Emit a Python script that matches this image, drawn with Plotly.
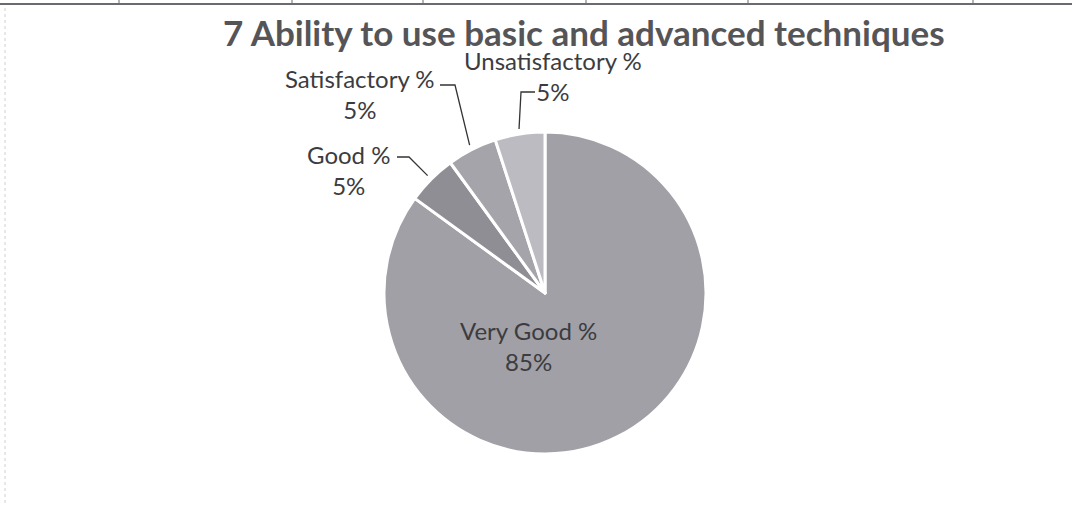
import math
import plotly.graph_objects as go

W, H = 1072, 506

labels = ["Very Good %", "Good %", "Satisfactory %", "Unsatisfactory %"]
values = [85, 5, 5, 5]
colors = ["#a0a0a6", "#8e8e94", "#a4a4aa", "#bbbbc1"]

title = "7 Ability to use basic and advanced techniques"

# pie placement in pixels
cx, cy, r = 545, 293, 161


def px(x):
    return x / W


def py(y):
    return 1 - y / H


fig = go.Figure(go.Pie(
    labels=labels, values=values, sort=False, direction="clockwise", rotation=0,
    marker=dict(colors=colors, line=dict(color="white", width=3)),
    textinfo="none", hoverinfo="label+percent", showlegend=False,
    domain=dict(x=[px(cx - r), px(cx + r)], y=[py(cy + r), py(cy - r)]),
))

txt_color = "#3c3c40"
font = dict(family="Lato, Open Sans, sans-serif", size=24, color=txt_color)

# label anchor (text centre) and elbow start of leader line, in pixels
label_pos = {
    "Very Good %": (528, 346, None),
    "Good %": (348, 170, (397, 157, 409)),
    "Satisfactory %": (360, 94, (440, 85, 455)),
    "Unsatisfactory %": (553, 76, (535, 92, 521)),
}

total = sum(values)
annotations = []
shapes = []
start = 0.0
for lab, v in zip(labels, values):
    pct = round(100 * v / total)
    mid = (start + v / 2) / total * 2 * math.pi
    start += v
    tx, ty, leader = label_pos[lab]
    annotations.append(dict(x=px(tx), y=py(ty), xref="paper", yref="paper", text=f"{lab}<br>{pct}%",
                            showarrow=False, font=font, align="center", xanchor="center", yanchor="middle"))
    if leader:
        lx, ly, ex = leader
        ex_ = cx + (r + 5) * math.sin(mid)
        ey_ = cy - (r + 5) * math.cos(mid)
        shapes.append(dict(type="path", xref="paper", yref="paper",
                           path=f"M {px(lx)} {py(ly)} L {px(ex)} {py(ly)} L {px(ex_)} {py(ey_)}",
                           line=dict(color="#333333", width=1.3)))

# scanned page artefacts: table border at top and faint left edge
shapes.append(dict(type="line", xref="paper", yref="paper", x0=0, x1=1, y0=py(4), y1=py(4),
                   line=dict(color="#6a6a70", width=2)))
for tx in [119, 292, 423, 586, 748, 973]:
    shapes.append(dict(type="line", xref="paper", yref="paper", x0=px(tx), x1=px(tx), y0=1, y1=py(4),
                       line=dict(color="#6a6a70", width=1)))
shapes.append(dict(type="line", xref="paper", yref="paper", x0=px(5), x1=px(5), y0=py(8), y1=0,
                   line=dict(color="#d0d0d4", width=1, dash="dot")))

annotations.append(dict(x=px(584), y=py(32), xref="paper", yref="paper", text=f"<b>{title}</b>",
                        showarrow=False, xanchor="center", yanchor="middle",
                        font=dict(family="Lato, Open Sans, sans-serif", size=35, color="#555558")))

fig.update_layout(width=W, height=H, margin=dict(l=0, r=0, t=0, b=0),
                  paper_bgcolor="white", plot_bgcolor="white",
                  annotations=annotations, shapes=shapes)
fig.write_html("out.html", config={"displayModeBar": False},
               post_script="document.body.style.margin='0';")
